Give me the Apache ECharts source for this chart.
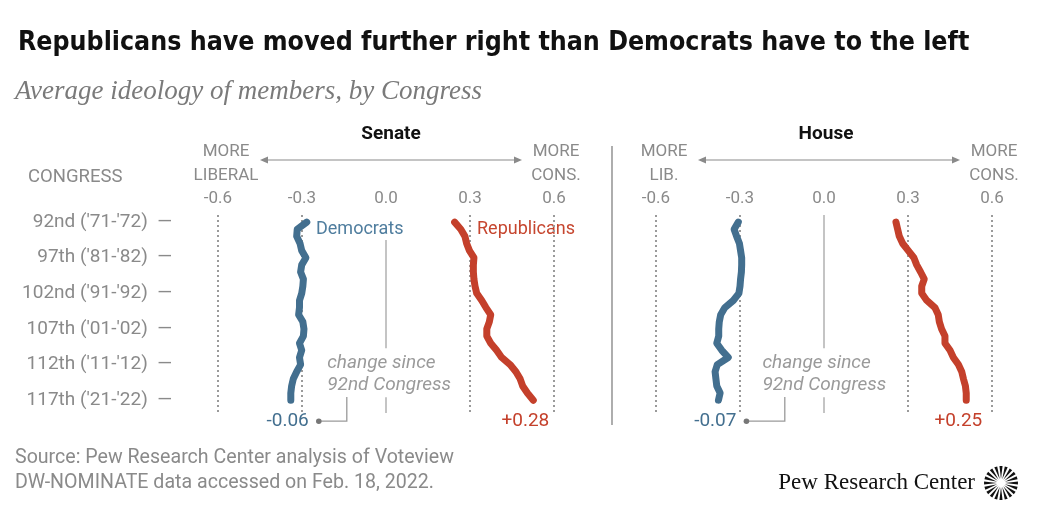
<!DOCTYPE html>
<html>
<head>
<meta charset="UTF-8">
<title>Average ideology of members, by Congress</title>
<script src="https://cdn.jsdelivr.net/npm/echarts@6/dist/echarts.min.js"></script>
<style>
  html, body { margin: 0; padding: 0; background: #fff; }
  #main { width: 1048px; height: 515px; }
</style>
</head>
<body>
<div id="main"></div>
<script>
// Congress numbers (92nd .. 117th)
var congresses = [92, 93, 94, 95, 96, 97, 98, 99, 100, 101, 102, 103, 104, 105, 106, 107, 108, 109, 110, 111, 112, 113, 114, 115, 116, 117];

// average DW-NOMINATE first dimension
var senateDem = [-0.283, -0.317, -0.319, -0.307, -0.301, -0.286, -0.301, -0.305, -0.295, -0.297, -0.301, -0.309, -0.309, -0.312, -0.297, -0.293, -0.295, -0.309, -0.301, -0.309, -0.305, -0.319, -0.331, -0.337, -0.340, -0.340];
var senateRep = [0.245, 0.267, 0.282, 0.288, 0.298, 0.314, 0.312, 0.312, 0.314, 0.318, 0.324, 0.342, 0.357, 0.374, 0.369, 0.360, 0.360, 0.374, 0.395, 0.413, 0.443, 0.464, 0.479, 0.488, 0.505, 0.526];
var houseDem = [-0.306, -0.321, -0.312, -0.302, -0.298, -0.294, -0.294, -0.295, -0.298, -0.300, -0.304, -0.324, -0.354, -0.369, -0.374, -0.376, -0.376, -0.383, -0.365, -0.342, -0.381, -0.389, -0.386, -0.383, -0.371, -0.377];
var houseRep = [0.257, 0.263, 0.269, 0.281, 0.301, 0.321, 0.331, 0.345, 0.358, 0.349, 0.349, 0.367, 0.396, 0.408, 0.412, 0.420, 0.432, 0.432, 0.450, 0.462, 0.480, 0.492, 0.498, 0.505, 0.508, 0.508];

// tick labels
var tickCongresses = [92, 97, 102, 107, 112, 117];
var tickLabels = ["92nd ('71-'72)", "97th ('81-'82)", "102nd ('91-'92)", "107th ('01-'02)", "112th ('11-'12)", "117th ('21-'22)"];
var xTicks = [-0.6, -0.3, 0, 0.3, 0.6];
var chambers = ['Senate', 'House'];

var BLUE = '#436f8f';
var RED = '#c4402b';
var GRAY = '#8a8a8a';
var SANS = 'Roboto, "Liberation Sans", sans-serif';
var NARROW = '"DejaVu Sans Condensed", Roboto, sans-serif';
var SERIF = '"Liberation Serif", "DejaVu Serif", serif';

var chart = echarts.init(document.getElementById('main'), null, { renderer: 'canvas' });

function pairs(vals) {
  return vals.map(function (v, i) { return [v, congresses[i]]; });
}

function guideLines() {
  var d = [];
  [-0.6, -0.3, 0.3, 0.6].forEach(function (v) {
    d.push({ xAxis: v, lineStyle: { type: [2, 3], width: 2, color: '#9a9a9a' } });
  });
  return d;
}

function zeroSegments(topStart) {
  var solid = { type: 'solid', width: 1.5, color: '#b0b0b0' };
  return [
    [{ coord: [0, topStart], lineStyle: solid }, { coord: [0, 109.7] }],
    [{ coord: [0, 116.6], lineStyle: solid }, { coord: [0, 118.8] }]
  ];
}

function lineSeries(idx, vals, color, marks) {
  var s = {
    type: 'line',
    xAxisIndex: idx,
    yAxisIndex: idx,
    data: pairs(vals),
    showSymbol: false,
    silent: true,
    z: 5,
    lineStyle: { width: 7, color: color, cap: 'round', join: 'round' }
  };
  if (marks) {
    s.markLine = {
      silent: true,
      symbol: 'none',
      label: { show: false },
      animation: false,
      z: 1,
      data: marks
    };
  }
  return s;
}

var xAxisBase = function (idx) {
  return {
    type: 'value',
    gridIndex: idx,
    position: 'top',
    min: -0.6,
    max: 0.6,
    interval: 0.3,
    axisLine: { show: false },
    axisTick: { show: false },
    splitLine: { show: false },
    axisLabel: {
      margin: 8,
      color: GRAY,
      fontFamily: SANS,
      fontSize: 17,
      formatter: function (v) { return Math.abs(v) < 1e-9 ? '0.0' : v.toFixed(1); }
    }
  };
};

var yAxisBase = function (idx) {
  return {
    type: 'value',
    gridIndex: idx,
    inverse: true,
    min: 91,
    max: 118.8,
    axisLine: { show: false },
    axisTick: { show: false },
    splitLine: { show: false },
    axisLabel: {
      show: idx === 0,
      customValues: tickCongresses,
      margin: 46,
      color: GRAY,
      fontFamily: SANS,
      fontSize: 19,
      formatter: function (v) {
        var k = tickCongresses.indexOf(Math.round(v));
        return k < 0 ? '' : tickLabels[k] + '  \u2014';
      }
    }
  };
};

chart.setOption({
  animation: false,
  backgroundColor: '#fff',
  grid: [
    { left: 218, width: 336, top: 215, height: 198 },
    { left: 656, width: 336, top: 215, height: 198 }
  ],
  xAxis: [xAxisBase(0), xAxisBase(1)],
  yAxis: [yAxisBase(0), yAxisBase(1)],
  series: [
    lineSeries(0, senateDem, BLUE, guideLines().concat(zeroSegments(94.5))),
    lineSeries(0, senateRep, RED),
    lineSeries(1, houseDem, BLUE, guideLines().concat(zeroSegments(91))),
    lineSeries(1, houseRep, RED)
  ]
});

// ---- annotations placed through the axes ----
function px(g, x, y) { return chart.convertToPixel({ gridIndex: g }, [x, y]); }

function fmtChange(vals) {
  var d = vals[vals.length - 1] - vals[0];
  var s = Math.abs(d).toFixed(2);
  return (d >= 0 ? '+' : '-') + s;
}

function txt(x, y, text, opt) {
  opt = opt || {};
  return {
    type: 'text',
    x: x, y: y,
    silent: true,
    style: {
      text: text,
      fill: opt.fill || GRAY,
      font: (opt.style || 'normal') + ' ' + (opt.weight || 'normal') + ' ' + (opt.size || 15) + 'px ' + (opt.family || SANS),
      textAlign: opt.align || 'left',
      textVerticalAlign: 'middle',
      lineHeight: opt.lineHeight || 22
    }
  };
}

function arrow(x1, x2, y) {
  var c = '#8a8a8a';
  return [
    { type: 'line', silent: true, shape: { x1: x1, y1: y, x2: x2, y2: y }, style: { stroke: c, lineWidth: 1.2 } },
    { type: 'polygon', silent: true, shape: { points: [[x1 - 2, y], [x1 + 6, y - 3.5], [x1 + 6, y + 3.5]] }, style: { fill: c } },
    { type: 'polygon', silent: true, shape: { points: [[x2 + 2, y], [x2 - 6, y - 3.5], [x2 - 6, y + 3.5]] }, style: { fill: c } }
  ];
}

var g = [];

// title, subtitle
g.push(txt(18, 43, 'Republicans have moved further right than Democrats have to the left', { fill: '#111', weight: 'bold', size: 26.5, family: NARROW }));
g.push(txt(15, 92, 'Average ideology of members, by Congress', { fill: '#7a7a7a', style: 'italic', size: 27, family: SERIF }));

// column header
g.push(txt(28, 177, 'CONGRESS', { size: 18.5 }));

var sides = [
  { g: 0, dem: senateDem, rep: senateRep, lib: 'MORE\nLIBERAL', textX: -0.21, hx: 5 },
  { g: 1, dem: houseDem, rep: houseRep, lib: 'MORE\nLIB.', textX: -0.22, hx: 2 }
];

sides.forEach(function (s, i) {
  var zero = px(s.g, 0, 92);
  var left = px(s.g, -0.6, 92);
  var right = px(s.g, 0.6, 92);
  g.push(txt(zero[0] + s.hx, 134, chambers[i], { fill: '#111', weight: 'bold', size: 19, align: 'center' }));
  g.push(txt(left[0] + 8, 164, s.lib, { size: 17, align: 'center', lineHeight: 24 }));
  g.push(txt(right[0] + 2, 164, 'MORE\nCONS.', { size: 17, align: 'center', lineHeight: 24 }));
  arrow(left[0] + 44, right[0] - 34, 160).forEach(function (e) { g.push(e); });

  // change annotation
  var dEnd = px(s.g, s.dem[s.dem.length - 1], 117);
  var rEnd = px(s.g, s.rep[s.rep.length - 1], 117);
  var yLab = dEnd[1] + 21;
  g.push(txt(dEnd[0] + 18, yLab, fmtChange(s.dem), { fill: BLUE, size: 19, align: 'right' }));
  g.push(txt(rEnd[0] + 16, yLab, fmtChange(s.rep), { fill: RED, size: 19, align: 'right' }));
  var conX = px(s.g, -0.14, 117)[0];
  var dotX = dEnd[0] + 28;
  g.push({ type: 'polyline', silent: true, shape: { points: [[dotX, yLab], [conX, yLab], [conX, 397]] }, style: { stroke: '#9a9a9a', lineWidth: 1.3, fill: null } });
  g.push({ type: 'circle', silent: true, shape: { cx: dotX, cy: yLab, r: 2.8 }, style: { fill: '#777' } });
  var tx = px(s.g, s.textX, 117)[0];
  g.push(txt(tx, 374, 'change since\n92nd Congress', { fill: '#9a9a9a', style: 'italic', size: 19, lineHeight: 22 }));
});

// series names
var dl = px(0, -0.25, 93.1);
var rl = px(0, 0.325, 93.1);
g.push(txt(dl[0], dl[1], 'Democrats', { fill: '#4f7d9e', size: 18 }));
g.push(txt(rl[0], rl[1], 'Republicans', { fill: '#c6462f', size: 18 }));

// panel divider
g.push({ type: 'line', silent: true, shape: { x1: 612, y1: 146, x2: 612, y2: 425 }, style: { stroke: '#777', lineWidth: 1.2 } });

// footer
g.push(txt(15, 471, 'Source: Pew Research Center analysis of Voteview\nDW-NOMINATE data accessed on Feb. 18, 2022.', { fill: '#8a8a8a', size: 19.6, lineHeight: 25 }));
g.push(txt(975, 483, 'Pew Research Center', { fill: '#111', size: 23, align: 'right', family: SERIF }));

// logo burst
var cx = 1001, cy = 483;
for (var k = 0; k < 20; k++) {
  var a = k * Math.PI * 2 / 20;
  var w = 0.09;
  g.push({
    type: 'polygon', silent: true,
    shape: { points: [
      [cx + 4 * Math.cos(a), cy + 4 * Math.sin(a)],
      [cx + 17 * Math.cos(a - w), cy + 17 * Math.sin(a - w)],
      [cx + 17 * Math.cos(a + w), cy + 17 * Math.sin(a + w)]
    ] },
    style: { fill: '#111' }
  });
}

chart.setOption({ graphic: g });
</script>
</body>
</html>
